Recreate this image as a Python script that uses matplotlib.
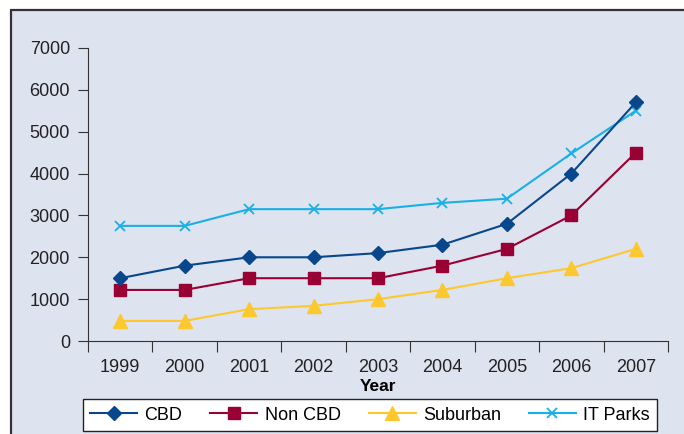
import numpy as np
import matplotlib.pyplot as plt
from matplotlib.patches import Rectangle

plt.rcParams['font.family'] = ['Liberation Sans', 'DejaVu Sans']

years = ['1999', '2000', '2001', '2002', '2003', '2004', '2005', '2006', '2007']
cbd = [1500, 1800, 2000, 2000, 2100, 2300, 2800, 4000, 5700]
non_cbd = [1220, 1220, 1500, 1500, 1500, 1800, 2200, 3000, 4500]
suburban = [480, 480, 760, 840, 1000, 1220, 1500, 1740, 2200]
it_parks = [2750, 2750, 3150, 3150, 3150, 3300, 3400, 4480, 5500]

bg = '#dde3ef'
fig = plt.figure(figsize=(6.84, 4.34), dpi=100, facecolor='white')
fig.patches.append(Rectangle((10.5/684, -0.01), 1, 1 - 10.5/434 + 0.01, transform=fig.transFigure,
                             facecolor=bg, edgecolor='#333333', linewidth=1.6, zorder=-10))

ax = fig.add_axes([88/684, 1 - 341/434, 580/684, 293/434])
ax.set_facecolor(bg)
x = np.arange(len(years))

ax.plot(x, it_parks, color='#19b0e8', marker='x', markersize=7.5, markeredgewidth=1.3, lw=1.5, label='IT Parks', zorder=3)
ax.plot(x, suburban, color='#fdc82f', marker='^', markersize=9.5, lw=1.5, label='Suburban', zorder=3)
ax.plot(x, non_cbd, color='#990033', marker='s', markersize=8, lw=1.5, label='Non CBD', zorder=4)
ax.plot(x, cbd, color='#08478c', marker='D', markersize=7, lw=1.5, label='CBD', zorder=5)

ax.set_xlim(-0.5, len(years) - 0.5)
ax.set_ylim(0, 7000)
ax.set_yticks(range(0, 7001, 1000))
ax.set_xticks(np.arange(-0.5, len(years), 1))
ax.set_xticklabels([])
ax.set_xticks(x, minor=True)
ax.set_xticklabels(years, minor=True)
ax.tick_params(axis='x', which='minor', length=0, pad=13, labelsize=13, colors='#222222')
ax.tick_params(axis='x', which='major', length=8, color='#333333')
ax.tick_params(axis='y', length=7, labelsize=13, colors='#222222', color='#333333', pad=6)
for s in ['top', 'right']:
    ax.spines[s].set_visible(False)
for s in ['left', 'bottom']:
    ax.spines[s].set_color('#333333')
ax.set_xlabel('Year', fontsize=12.5, fontweight='bold', labelpad=2)

h, l = ax.get_legend_handles_labels()
order = [3, 2, 1, 0]
leg = fig.legend([h[i] for i in order], [l[i] for i in order], ncol=4, loc='center',
                 bbox_to_anchor=(370/684, 1 - 415/434), fancybox=False, edgecolor='#222222',
                 fontsize=13, handlelength=2.6, handletextpad=0.4, columnspacing=1.55, borderpad=0.4,
                 facecolor='white', framealpha=1)
leg.get_frame().set_linewidth(1.0)

fig.savefig('out.png', dpi=100, facecolor='white')
